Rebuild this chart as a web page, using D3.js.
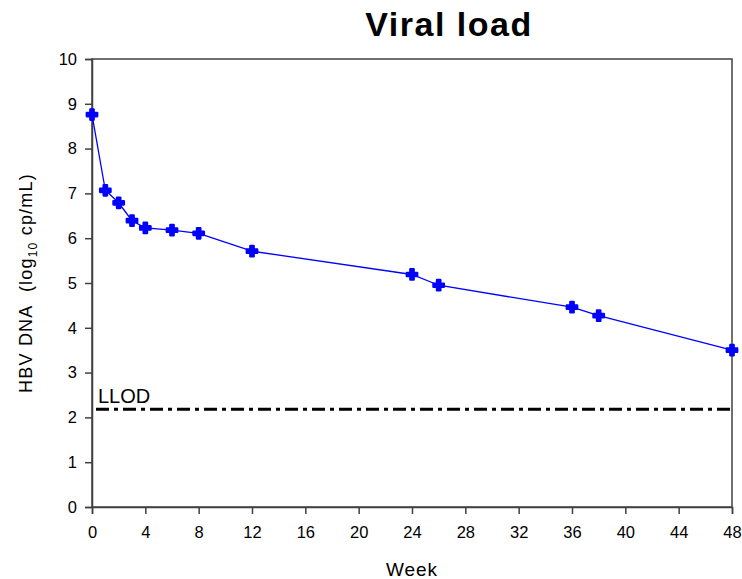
<!DOCTYPE html>
<html>
<head>
<meta charset="utf-8">
<script src="https://cdn.jsdelivr.net/npm/d3@7"></script>
<style>
  body { margin: 0; background: #fff; }
  text { font-family: "Liberation Sans", Arial, sans-serif; }
</style>
</head>
<body>
<div id="chart"></div>
<script>
// data
var weeks = [0, 1, 2, 3, 4, 6, 8, 12, 24, 26, 36, 38, 48];
var viralLoad = [8.76, 7.07, 6.79, 6.39, 6.23, 6.18, 6.11, 5.71, 5.19, 4.95, 4.46, 4.27, 3.50];
var llod = 2.18;
var xTicks = [0, 4, 8, 12, 16, 20, 24, 28, 32, 36, 40, 44, 48];
var yTicks = [0, 1, 2, 3, 4, 5, 6, 7, 8, 9, 10];

var margin = { top: 59, left: 92, right: 10, bottom: 72 },
  width = 742 - margin.left - margin.right,
  height = 579 - margin.top - margin.bottom;

var svg = d3.select("#chart")
  .append("svg")
  .attr("width", 742)
  .attr("height", 579);

var g = svg.append("g")
  .attr("transform", "translate(" + margin.left + "," + margin.top + ")");

var xScale = d3.scaleLinear().domain([0, 48]).range([0, width]);
var yScale = d3.scaleLinear().domain([0, 10]).range([height, 0]);

// frame
g.append("rect")
  .attr("width", width)
  .attr("height", height)
  .attr("fill", "none")
  .attr("stroke", "#404040")
  .attr("stroke-width", 1.5);

var xAxis = g.append("g")
  .attr("transform", "translate(0," + height + ")")
  .call(d3.axisBottom(xScale).tickValues(xTicks).tickSize(7).tickPadding(12));
var yAxis = g.append("g")
  .call(d3.axisLeft(yScale).tickValues(yTicks).tickSize(7).tickPadding(8));

[xAxis, yAxis].forEach(function(ax) {
  ax.select(".domain").attr("stroke", "#404040").attr("stroke-width", 1.5);
  ax.selectAll(".tick line").attr("stroke", "#404040").attr("stroke-width", 1.5);
  ax.selectAll(".tick text")
    .attr("fill", "#000")
    .style("font-size", "16.5px")
    .style("font-family", "Liberation Sans, Arial, sans-serif");
});

// LLOD line
g.append("line")
  .attr("x1", xScale(0.3))
  .attr("x2", width)
  .attr("y1", yScale(llod))
  .attr("y2", yScale(llod))
  .attr("stroke", "#000")
  .attr("stroke-width", 3)
  .attr("stroke-dasharray", "13,5,4,5");

g.append("text")
  .attr("x", xScale(0.45))
  .attr("y", yScale(llod) - 6)
  .style("font-size", "20px")
  .text("LLOD");

// data line
var line = d3.line()
  .x(function(d, i) { return xScale(weeks[i]); })
  .y(function(d) { return yScale(d); });

g.append("path")
  .datum(viralLoad)
  .attr("d", line)
  .attr("fill", "none")
  .attr("stroke", "#0000ff")
  .attr("stroke-width", 1.3);

g.selectAll(".pt")
  .data(viralLoad)
  .enter()
  .append("path")
  .attr("class", "pt")
  .attr("transform", function(d, i) { return "translate(" + xScale(weeks[i]) + "," + yScale(d) + ")"; })
  .attr("d", d3.symbol().type(d3.symbolCross).size(62))
  .attr("fill", "#0000ff")
  .attr("stroke", "#0000ff")
  .attr("stroke-width", 2.2)
  .attr("stroke-linejoin", "round");

// title and labels
svg.append("text")
  .attr("x", 449)
  .attr("y", 36)
  .attr("text-anchor", "middle")
  .style("font-size", "34px")
  .style("font-weight", "bold")
  .style("letter-spacing", "1.5px")
  .text("Viral load");

svg.append("text")
  .attr("x", margin.left + width / 2)
  .attr("y", 576)
  .attr("text-anchor", "middle")
  .style("font-size", "19px")
  .style("letter-spacing", "1px")
  .text("Week");

var yl = svg.append("text")
  .attr("transform", "translate(32," + 283 + ") rotate(-90)")
  .attr("text-anchor", "middle")
  .style("font-size", "18px")
  .style("letter-spacing", "1.2px")
  .style("white-space", "pre");
yl.append("tspan").text("HBV DNA\u00a0\u00a0(log");
yl.append("tspan").attr("dy", 5).style("font-size", "12px").text("10");
yl.append("tspan").attr("dy", -5).text(" cp/mL)");
</script>
</body>
</html>
